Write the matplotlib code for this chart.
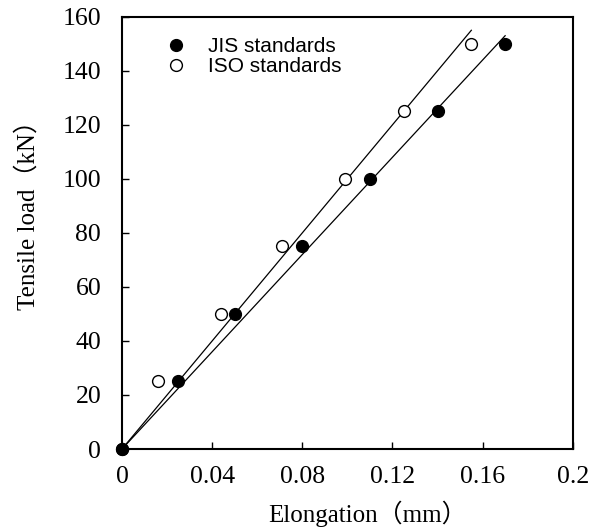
import numpy as np
import matplotlib
matplotlib.use("Agg")
import matplotlib.pyplot as plt

# elongation (mm) and tensile load (kN)
jisElong = [0, 0.025, 0.05, 0.08, 0.11, 0.14, 0.17]
jisLoad = [0, 25, 50, 75, 100, 125, 150]
isoElong = [0, 0.016, 0.044, 0.071, 0.099, 0.125, 0.155]
isoLoad = [0, 25, 50, 75, 100, 125, 150]

xTicks = [0, 0.04, 0.08, 0.12, 0.16, 0.2]
xTickLabels = ["0", "0.04", "0.08", "0.12", "0.16", "0.2"]
yTicks = [0, 20, 40, 60, 80, 100, 120, 140, 160]

serif = ["Liberation Serif", "Noto Sans CJK JP"]
plt.rcParams["font.family"] = serif


def fit_through_origin(x, y):
    x = np.array(x)
    y = np.array(y)
    return (x * y).sum() / (x * x).sum()


fig = plt.figure(figsize=(6.01, 5.28), dpi=100)
ax = fig.add_axes([0.203, 0.1496, 0.750, 0.8184])

for xs, ys in [(jisElong, jisLoad), (isoElong, isoLoad)]:
    k = fit_through_origin(xs, ys)
    xx = np.array([0, max(xs)])
    ax.plot(xx, k * xx, color="black", lw=0.9, zorder=2)

ax.plot(isoElong, isoLoad, "o", mfc="white", mec="black", mew=1.0, ms=8.5,
        zorder=3, label="ISO standards", clip_on=False)
ax.plot(jisElong, jisLoad, "o", color="black", ms=8.5, zorder=4,
        label="JIS standards", clip_on=False)

ax.set_xlim(0, 0.2)
ax.set_ylim(0, 160)
ax.set_xticks(xTicks)
ax.set_xticklabels(xTickLabels)
ax.set_yticks(yTicks)
ax.tick_params(direction="in", length=5, width=1, labelsize=18.5)
ax.tick_params(axis="x", pad=12)
ax.tick_params(axis="y", pad=15)
for s in ax.spines.values():
    s.set_linewidth(1.5)

ax.set_xlabel("Elongation（mm）", fontsize=18, labelpad=9)
ax.xaxis.label.set_x(0.545)
ax.set_ylabel("Tensile load（kN）", fontsize=18)
ax.yaxis.set_label_coords(-0.182, 0.555)

handles, labels = ax.get_legend_handles_labels()
leg = ax.legend(handles[::-1], labels[::-1], loc="upper left",
                bbox_to_anchor=(0.05, 0.997), frameon=False,
                prop={"family": "Liberation Sans", "size": 15},
                handletextpad=0.93, labelspacing=0.05, handlelength=1.2)

fig.savefig("out.png", dpi=100)
